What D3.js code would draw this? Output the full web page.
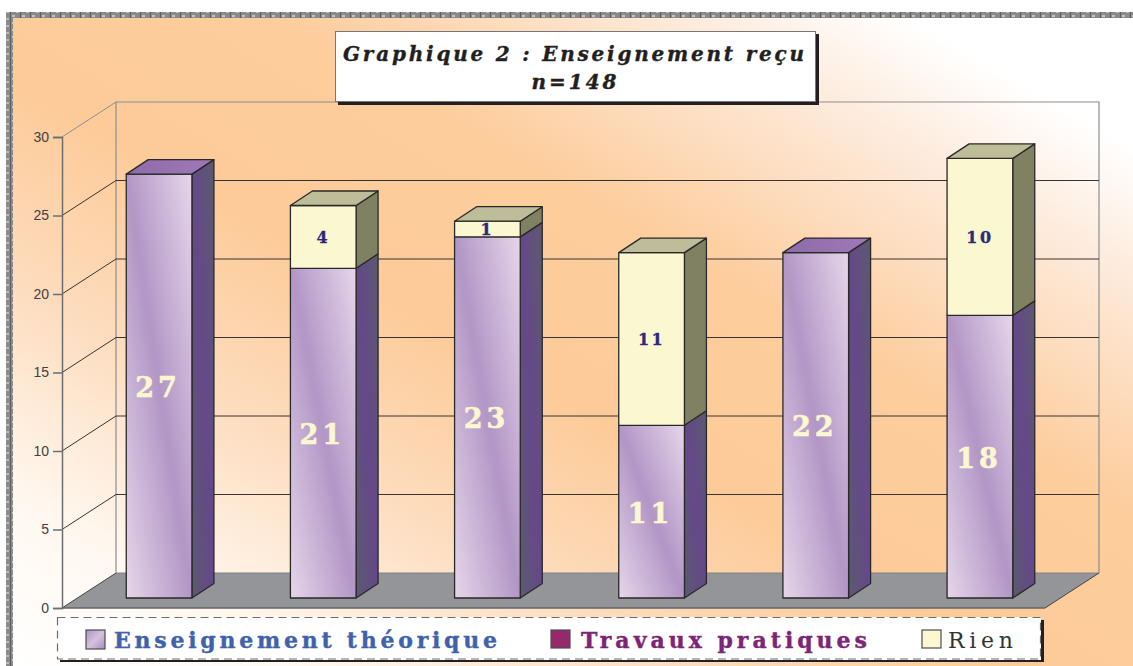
<!DOCTYPE html>
<html><head><meta charset="utf-8">
<script src="https://cdn.jsdelivr.net/npm/d3@7/dist/d3.min.js"></script>
<style>html,body{margin:0;padding:0;background:#fff}svg{display:block}</style></head>
<body><script>
const categories = ["A","B","C","D","E","F"];
const theorique = [27,21,23,11,22,18];
const pratiques = [0,0,0,0,0,0];
const rien = [0,4,1,11,0,10];
const seriesNames = ["Enseignement théorique","Travaux pratiques","Rien"];
const yTicks = [0,5,10,15,20,25,30];
const titleLines = ["Graphique 2 : Enseignement reçu","n=148"];

const W=1133,H=666;
const svg=d3.select("body").append("svg").attr("width",W).attr("height",H);
const defs=svg.append("defs");
function grad(id,stops,x1,y1,x2,y2){
  const g=defs.append("linearGradient").attr("id",id).attr("x1",x1).attr("y1",y1).attr("x2",x2).attr("y2",y2);
  stops.forEach(s=>g.append("stop").attr("offset",s[0]).attr("stop-color",s[1]));
}
grad("bg",[[0,"#ffffff"],[.1,"#ffffff"],[.2,"#fdebdc"],[.38,"#fdcd9d"],[.55,"#fdcb99"],[.7,"#fddcbd"],[.87,"#fff8f0"],[1,"#ffffff"]],1,0,0,1);
grad("front",[[0,"#e6d6ea"],[.5,"#b296c6"],[1,"#e6d6ea"]],1,0,0,1);
grad("side",[[0,"#5b5a6e"],[.5,"#65488a"],[1,"#5b5a6e"]],1,0,0,1);
grad("top",[[0,"#8d6ca8"],[1,"#a078b8"]],0,0,1,0);
grad("swatch",[[0,"#b092c4"],[.5,"#d5c1de"],[1,"#a98bc0"]],0,0,1,1);
const p=defs.append("pattern").attr("id","tile").attr("width",10).attr("height",7).attr("patternUnits","userSpaceOnUse");
p.append("rect").attr("width",10).attr("height",7).attr("fill","#8a8a8a");
p.append("rect").attr("x",2).attr("y",1).attr("width",3).attr("height",2).attr("fill","#c4c4c4");
p.append("rect").attr("x",6).attr("y",4).attr("width",3).attr("height",2).attr("fill","#b8b8b8");
p.append("rect").attr("x",0).attr("y",0).attr("width",1).attr("height",7).attr("fill","#5e5e5e");

svg.append("rect").attr("x",13).attr("y",18).attr("width",W-13).attr("height",H-18).attr("fill","url(#bg)");
svg.append("rect").attr("x",6).attr("y",12).attr("width",W-6).attr("height",6).attr("fill","url(#tile)");
svg.append("rect").attr("x",6).attr("y",12).attr("width",7).attr("height",H-12).attr("fill","url(#tile)");

const dx=54,dy=-35, barDx=22, barDy=-14.5, barLift=10;
const y=d3.scaleLinear().domain([0,30]).range([608,137]);
const floorX=d3.scaleLinear().domain([0,1]).range([62,1045]);
const x=d3.scaleBand().domain(categories).range([77,1062]).paddingInner(.6).paddingOuter(.3);
const path=pts=>"M"+pts.map(q=>q.join(",")).join("L")+"Z";

// floor
svg.append("path").attr("d",path([[floorX(0),y(0)],[floorX(0)+dx,y(0)+dy],[floorX(1)+dx,y(0)+dy],[floorX(1),y(0)]]))
  .attr("fill","#939598");
svg.append("line").attr("x1",floorX(0)+dx).attr("x2",floorX(1)+dx).attr("y1",y(0)+dy).attr("y2",y(0)+dy).attr("stroke","#808285");
svg.append("line").attr("x1",floorX(0)).attr("x2",floorX(1)).attr("y1",y(0)).attr("y2",y(0)).attr("stroke","#636466").attr("stroke-width",1.6);
svg.append("line").attr("x1",floorX(1)).attr("x2",floorX(1)+dx).attr("y1",y(0)).attr("y2",y(0)+dy).attr("stroke","#444").attr("stroke-width",1);
svg.append("line").attr("x1",floorX(0)).attr("x2",floorX(0)+dx).attr("y1",y(0)).attr("y2",y(0)+dy).attr("stroke","#444").attr("stroke-width",1);

// walls and grid
svg.append("path").attr("d",`M${floorX(0)+dx},${y(0)+dy}V${y(30)+dy}H${floorX(1)+dx}V${y(0)+dy}`)
  .attr("fill","none").attr("stroke","#8c8e91").attr("stroke-width",1.2);
const grid=svg.append("g");
yTicks.filter(t=>t>0).forEach(t=>{
  const c=t===30?"#8c8e91":"#3a3330";
  grid.append("line").attr("x1",floorX(0)).attr("y1",y(t)).attr("x2",floorX(0)+dx).attr("y2",y(t)+dy).attr("stroke",c).attr("stroke-width",1);
  if(t<30) grid.append("line").attr("x1",floorX(0)+dx).attr("y1",y(t)+dy).attr("x2",floorX(1)+dx).attr("y2",y(t)+dy).attr("stroke",c).attr("stroke-width",1);
});

// axis
const axis=d3.axisLeft(y).tickValues(yTicks).tickSize(9).tickPadding(4);
const ag=svg.append("g").attr("transform",`translate(${floorX(0)},0)`).call(axis);
ag.selectAll("path,line").attr("stroke","#6d6e70").attr("stroke-width",1.5);
ag.selectAll("text").attr("fill","#414042").style("font","14px 'Liberation Sans',sans-serif");

// bars
const styles=[
 {front:"url(#front)",side:"url(#side)",top:"url(#top)"},
 {front:"#96296c",side:"#5a1a44",top:"#7a2458"},
 {front:"#fbf7d0",side:"#808062",top:"#bdbd99"}];
const outline={stroke:"#2b2829","stroke-width":1.3};
const bars=svg.append("g");
const labels=svg.append("g");
const ys=v=>y(v)-barLift;
categories.forEach((c,i)=>{
  const vals=[theorique[i],pratiques[i],rien[i]];
  let base=0; const x0=x(c), x1=x0+x.bandwidth();
  const topIdx=vals.reduce((a,v,k)=>v>0?k:a,0);
  vals.forEach((v,k)=>{
    if(v<=0) return;
    const yb=ys(base), yt=ys(base+v), st=styles[k];
    const g=bars.append("g").attr("stroke",outline.stroke).attr("stroke-width",outline["stroke-width"]).attr("stroke-linejoin","round");
    g.append("path").attr("d",path([[x1,yb],[x1+barDx,yb+barDy],[x1+barDx,yt+barDy],[x1,yt]])).attr("fill",st.side);
    g.append("rect").attr("x",x0).attr("y",yt).attr("width",x1-x0).attr("height",yb-yt).attr("fill",st.front);
    if(k===topIdx) g.append("path").attr("d",path([[x0,yt],[x0+barDx,yt+barDy],[x1+barDx,yt+barDy],[x1,yt]])).attr("fill",st.top);
    const big=k===0;
    const col=big?"#fbf7d0":"#2b2a7a";
    labels.append("text").text(v).attr("x",(x0+x1)/2+(big?-1:0)).attr("y",(yb+yt)/2+(big?11:6))
      .attr("text-anchor","middle")
      .attr("fill",col).attr("stroke",col).attr("stroke-width",big?.6:.3)
      .style("font-family","'DejaVu Serif',serif").style("font-weight","bold")
      .style("font-size",big?"27px":"16px").style("letter-spacing",big?"4px":"2.5px");
    base+=v;
  });
});

// title
svg.append("rect").attr("x",338).attr("y",34).attr("width",481).attr("height",71).attr("fill","#231f20");
svg.append("rect").attr("x",335.5).attr("y",31.5).attr("width",480).attr("height",70).attr("fill","#fff").attr("stroke","#777").attr("stroke-width",1);
titleLines.forEach((t,i)=>svg.append("text").text(t).attr("x",i?574:343).attr("y",i?89:61)
  .attr("text-anchor",i?"middle":"start")
  .attr("textLength",i?85:461).attr("lengthAdjust","spacing")
  .attr("fill","#231f20").attr("stroke","#231f20").attr("stroke-width",.35)
  .style("font-family","'DejaVu Serif',serif").style("font-weight","bold").style("font-style","italic").style("font-size","20px"));

// legend
svg.append("rect").attr("x",60).attr("y",620).attr("width",984).attr("height",42).attr("fill","#231f20");
svg.append("rect").attr("x",57).attr("y",617).attr("width",984).attr("height",43).attr("fill","#fff");
svg.append("rect").attr("x",57.5).attr("y",617.5).attr("width",983).attr("height",41.5).attr("fill","none")
  .attr("stroke","#6d6e70").attr("stroke-width",1.2).attr("stroke-dasharray","8 5");
const legendX=[114,581,948];
const legendLen=[383,286,65];
const legendCol=["#3f62ad","#7c2478","#333333"];
const swatchFill=["url(#swatch)","#96296c","#fbf7d0"];
const swatchX=[86,551,922];
seriesNames.forEach((n,i)=>{
  const bold=i<2;
  svg.append("rect").attr("x",swatchX[i]).attr("y",630).attr("width",19).attr("height",i===0?19:18).attr("fill",swatchFill[i]).attr("stroke","#4d4d4f").attr("stroke-width",1.2);
  svg.append("text").text(n).attr("x",legendX[i]).attr("y",648).attr("textLength",legendLen[i]).attr("lengthAdjust","spacing")
    .attr("fill",legendCol[i]).attr("stroke",bold?legendCol[i]:"none").attr("stroke-width",.4)
    .style("font-family","'DejaVu Serif',serif").style("font-weight",bold?"bold":"normal").style("font-size","22px");
});
</script></body></html>
